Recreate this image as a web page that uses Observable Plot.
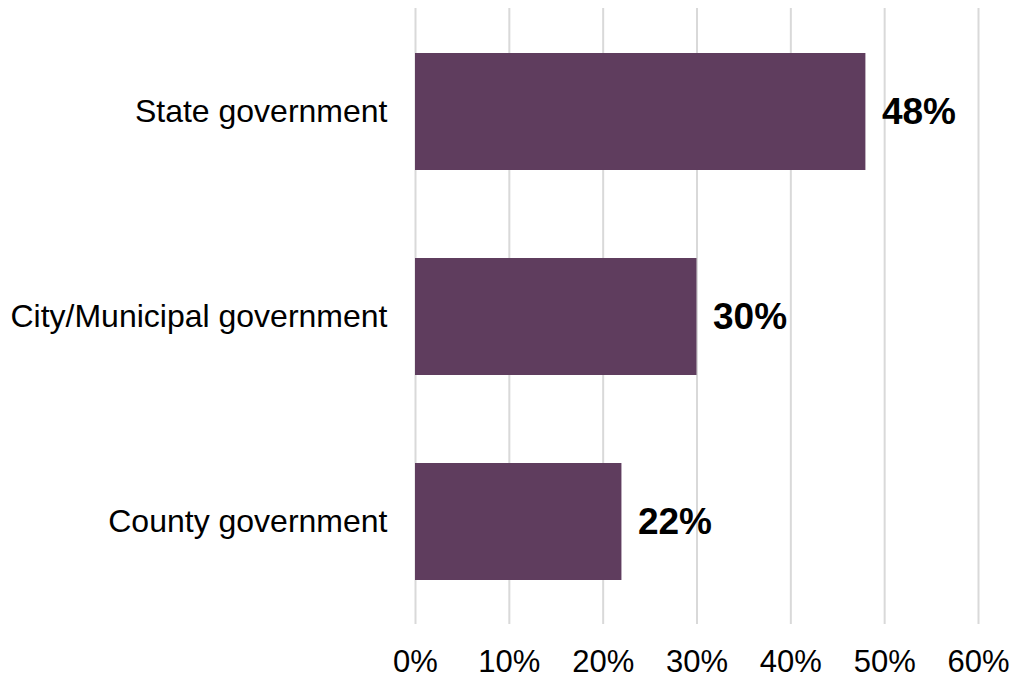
<!DOCTYPE html>
<html>
<head>
<meta charset="utf-8">
<script src="https://cdn.jsdelivr.net/npm/d3@7"></script>
<script src="https://cdn.jsdelivr.net/npm/@observablehq/plot@0.6"></script>
<style>
  html, body { margin: 0; padding: 0; background: #fff; }
</style>
</head>
<body>
<div id="chart"></div>
<script>
const categories = ["State government", "City/Municipal government", "County government"];
const values = [48, 30, 22];
const xTicks = [0, 10, 20, 30, 40, 50, 60];

const data = categories.map((c, i) => ({category: c, value: values[i]}));

const chart = Plot.plot({
  width: 1012,
  height: 678,
  marginLeft: 415,
  marginRight: 34,
  marginTop: 8,
  marginBottom: 54,
  style: {fontFamily: "'Liberation Sans', Arial, sans-serif", color: "#000", background: "#fff"},
  x: {domain: [0, 60], label: null},
  y: {domain: categories, paddingInner: 0.43, paddingOuter: 0.215, label: null},
  marks: [
    Plot.ruleX(xTicks, {stroke: "#d9d9d9", strokeWidth: 2, strokeOpacity: 1}),
    Plot.barX(data, {x: "value", y: "category", fill: "#5f3d5e"}),
    Plot.text(data, {x: "value", y: "category", text: d => d.value + "%", dx: 16, textAnchor: "start", fontWeight: "bold", fontSize: 37, fill: "#000"}),
    Plot.axisX({ticks: xTicks, tickFormat: d => d + "%", tickSize: 0, tickPadding: 25, fontSize: 31, label: null, fill: "#000"}),
    Plot.axisY({tickSize: 0, tickPadding: 28, fontSize: 32, label: null, fill: "#000"})
  ]
});
document.getElementById("chart").appendChild(chart);
</script>
</body>
</html>
